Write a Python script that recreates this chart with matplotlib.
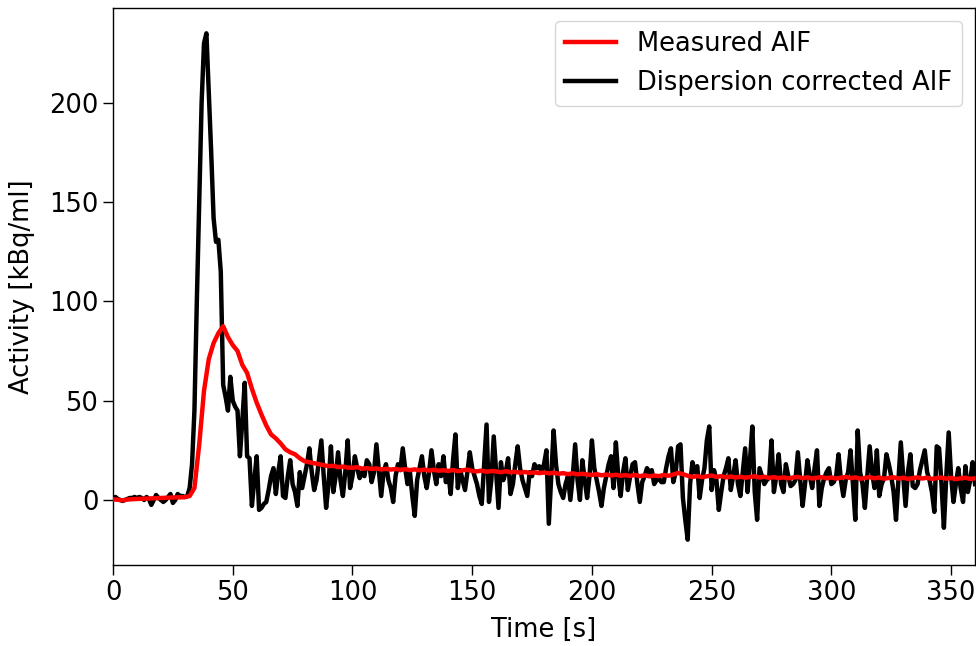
import numpy as np
import matplotlib
matplotlib.use('Agg')
import matplotlib.pyplot as plt

# Measured AIF, sampled every 2 s (kBq/ml)
t_measured = np.arange(0, 361, 2)
measured_aif = [
    0.3, 0.1, -0.2, 0.2, 0.4, 0.5, 0.6, 0.7, 0.8, 0.9, 1.0, 1.1, 1.2, 1.3, 1.3, 1.4,
    2.0, 6, 28, 55, 71, 79, 84, 87.5, 82, 78, 75, 68, 64, 56,
    49, 43, 37.5, 33, 31, 28.5, 25.5, 24, 23, 21, 19.5, 19, 18.5, 18, 17.5, 17, 17.2, 16.5, 16.8, 16.3,
    16.2, 16.5, 15.8, 16.0, 15.6, 15.9, 15.4, 15.7, 15.3, 15.6,
    15.2, 15.5, 15.0, 15.4, 14.9, 15.3, 14.8, 15.2, 14.7, 15.0,
    14.6, 15.1, 14.5, 14.9, 15.3, 14.6, 14.4, 14.8, 14.2, 14.6,
    14.3, 14.0, 14.5, 13.9, 14.2, 13.7, 14.1, 13.6, 13.9, 13.5,
    13.8, 13.4, 13.7, 13.2, 13.5, 13.0, 13.4, 12.9, 13.2, 12.8,
    12.6, 13.0, 12.4, 12.8, 12.3, 12.7, 12.2, 12.5, 12.1, 12.6,
    12.0, 12.4, 11.9, 12.3, 12.0, 12.6, 12.2, 12.8, 13.6, 13.0,
    12.2, 11.6, 12.0, 11.5, 11.9, 12.3, 11.6, 12.0, 11.4, 11.8,
    11.3, 11.7, 11.2, 11.6, 11.9, 11.3, 11.7, 11.1, 11.5, 11.0,
    11.4, 10.9, 11.3, 11.6, 11.0, 11.4, 10.8, 11.2, 11.5, 10.9,
    11.3, 10.8, 11.2, 11.6, 11.0, 11.4, 10.7, 11.1, 11.5, 10.9,
    11.3, 10.7, 11.1, 11.4, 10.8, 11.2, 10.6, 11.0, 11.4, 10.8,
    11.2, 10.6, 11.0, 11.3, 10.7, 11.1, 10.5, 10.9, 11.2, 10.6,
    10.9,
]

# Dispersion corrected AIF, sampled every 1 s (kBq/ml)
t_corrected = np.arange(0, 361, 1)
corrected_aif = [
    1, 1.5, 0.5, 0, -0.5, 0, 0.5, 1, 1, 1.5,
    1, 1.5, 1, 0, 1.5, 0.5, -2.5, 0, 2.5, 1,
    0, -1, 0, 1.5, 3, -1.5, 0, 3, 2, 2,
    1.5, 2, 6, 18, 45, 100, 150, 200, 230, 235,
    205, 175, 142, 130, 131, 115, 58, 52, 45, 62,
    50, 47, 45, 22, 40, 59, 22, 21, -3, 10,
    22, -5, -4, -2, -1, 5, 12, 16, 3, 14,
    22, 2, 1, 12, 20, 8, 4, -3, 14, 6,
    12, 18, 26, 14, 5, 10, 20, 30, 12, -4,
    8, 27, 4, 12, 24, 10, 2, 14, 30, 6,
    12, 22, 16, 11, 14, 12, 20, 18, 9, 14,
    28, 15, 2, 14, 18, 10, 6, -1, 12, 18,
    15, 26, 16, 8, 14, 2, -8, 10, 16, 22,
    12, 6, 14, 25, 15, 8, 18, 12, 22, 9,
    14, 3, 20, 33, 6, 15, 10, 5, 14, 24,
    16, 12, 8, 2, -2, 18, 38, -1, 10, 32,
    14, -4, 19, 10, 14, 21, 3, 8, 18, 27,
    16, 10, 6, 2, 14, 12, 18, 16, 17, 14,
    18, 25, -12, 12, 35, 18, 8, 4, 1, 8,
    12, 0, 12, 28, 10, 0, 20, 10, 1, 12,
    30, 16, 10, 4, -3, 6, 12, 18, 22, 6,
    29, 12, 2, 14, 21, 5, 12, 18, 19, 8,
    -1, 9, 12, 16, 14, 15, 8, 10, 11, 9,
    9, 16, 22, 26, 9, 14, 27, 28, 1, -10,
    -20, 8, 19, 14, 17, 1, 10, 16, 30, 37,
    5, 15, 10, -5, 4, 12, 16, 21, 5, 12,
    20, 8, 2, 14, 26, 4, 20, 37, 4, -10,
    16, 12, 8, 10, 11, 30, 4, 12, 23, 8,
    4, 18, 12, 7, 8, 10, 24, 10, -3, 8,
    20, 12, 6, 16, 25, -3, 6, 11, 14, 16,
    8, 9, 12, 23, 10, 2, 10, 14, 25, 8,
    -10, 35, 14, 8, -4, 12, 27, 14, 6, 25,
    2, 8, 11, 23, 18, 12, 4, -10, 10, 29,
    12, -3, 14, 23, 7, 6, 8, 15, 20, 25,
    14, 10, 4, -6, 27, 26, 8, -14, 12, 34,
    12, -1, 8, 16, 6, -1, 17, 4, 10, 19, 8,
]

plt.rcParams['font.family'] = 'DejaVu Sans'
plt.rcParams['font.size'] = 18.5

fig = plt.figure(figsize=(9.76, 6.46), dpi=100)
ax = fig.add_axes([0.1158, 0.1254, 0.8832, 0.8622])

ax.plot(t_measured, measured_aif, color='red', linewidth=3.2, label='Measured AIF', zorder=3)
ax.plot(t_corrected, corrected_aif, color='black', linewidth=3.2, label='Dispersion corrected AIF', zorder=2)

ax.set_xlim(0, 360)
ax.set_xlabel('Time [s]', labelpad=8)
ax.set_ylabel('Activity [kBq/ml]', labelpad=10)
ax.tick_params(length=7, width=1.0)
for spine in ax.spines.values():
    spine.set_linewidth(1.0)

ax.legend(loc='upper right')

fig.savefig('out.png', dpi=100)
